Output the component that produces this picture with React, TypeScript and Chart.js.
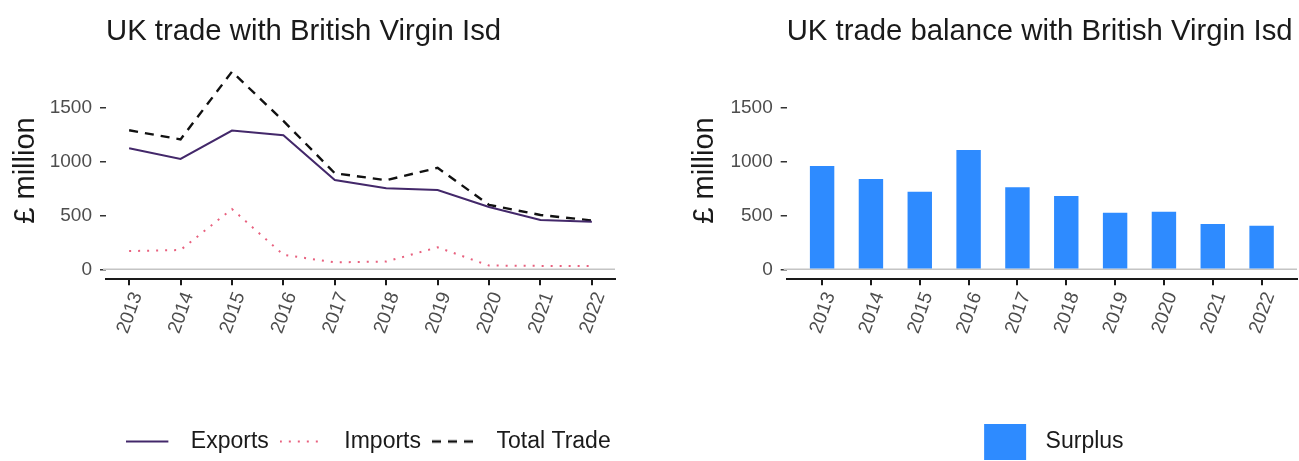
import React, { useEffect, useRef } from 'react';
import { Chart, registerables } from 'chart.js';

Chart.register(...registerables);

// ---- data ----
const years = [2013, 2014, 2015, 2016, 2017, 2018, 2019, 2020, 2021, 2022];
const exportsValues = [1128, 1028, 1292, 1249, 832, 755, 739, 580, 459, 444];
const importsValues = [170, 180, 562, 135, 65, 72, 205, 35, 32, 30];
const totalValues = [1295, 1210, 1840, 1382, 895, 830, 945, 600, 506, 455];
const balanceValues = [963, 841, 723, 1112, 764, 683, 527, 537, 422, 406];
const yTickValues = [0, 500, 1000, 1500];

const leftTitle = 'UK trade with British Virgin Isd';
const rightTitle = 'UK trade balance with British Virgin Isd';
const yTitle = '£ million';

const FONT = "'Liberation Sans', Arial, Helvetica, sans-serif";
const maxVal = Math.max(...totalValues);
const yMin = -0.05 * maxVal;
const yMax = maxVal * 1.05;

const EXPORT_COLOR = '#43286a';
const IMPORT_COLOR = '#e8607e';
const TOTAL_COLOR = '#111111';
const BAR_COLOR = '#2e8bff';

function lineKey(color: string, dash: number[], width: number) {
  const c = document.createElement('canvas');
  c.width = 53;
  c.height = 8;
  const ctx = c.getContext('2d')!;
  ctx.strokeStyle = color;
  ctx.lineWidth = width;
  ctx.setLineDash(dash);
  ctx.beginPath();
  ctx.moveTo(0, 4);
  ctx.lineTo(42, 4);
  ctx.stroke();
  return c;
}

function boxKey(color: string) {
  const c = document.createElement('canvas');
  c.width = 74;
  c.height = 36;
  const ctx = c.getContext('2d')!;
  ctx.fillStyle = color;
  ctx.fillRect(24, 0, 42, 36);
  return c;
}

const zeroLine = {
  id: 'zeroLine',
  beforeDatasetsDraw(chart: any) {
    const { ctx, chartArea, scales } = chart;
    const y = scales.y.getPixelForValue(0);
    ctx.save();
    ctx.strokeStyle = '#c4c4c4';
    ctx.lineWidth = 1.5;
    ctx.beginPath();
    ctx.moveTo(chartArea.left - 3, y);
    ctx.lineTo(chartArea.right, y);
    ctx.stroke();
    ctx.restore();
  },
};

function legendNudge(dx: number) {
  return {
    id: 'legendNudge',
    afterLayout(chart: any) {
      if (chart.legend) {
        chart.legend.left += dx;
        chart.legend.right += dx;
      }
    },
  };
}

function xScale(min: number, max: number) {
  return {
    type: 'linear',
    min,
    max,
    bounds: 'data',
    offset: false,
    afterBuildTicks: (s: any) => {
      s.ticks = years.map((v) => ({ value: v }));
    },
    afterFit: (s: any) => {
      s.height = 139.8;
    },
    ticks: {
      autoSkip: false,
      minRotation: 70,
      maxRotation: 70,
      padding: 4,
      labelOffset: 8,
      color: '#4d4d4d',
      font: { family: FONT, size: 19 },
      callback: (v: any) => String(v),
    },
    grid: { offset: false, drawOnChartArea: false, drawTicks: true, tickLength: 6, color: '#1a1a1a', lineWidth: 2 },
    border: { display: true, color: '#1a1a1a', width: 2 },
  };
}

function yScale(width: number, titlePad: number) {
  return {
    type: 'linear',
    min: yMin,
    max: yMax,
    bounds: 'data',
    afterBuildTicks: (s: any) => {
      s.ticks = yTickValues.map((v) => ({ value: v }));
    },
    afterFit: (s: any) => {
      s.width = width;
    },
    ticks: {
      padding: 8,
      color: '#4d4d4d',
      font: { family: FONT, size: 19 },
      callback: (v: any) => String(v),
    },
    grid: { drawOnChartArea: false, drawTicks: true, tickLength: 6, color: '#333333', lineWidth: 1.5 },
    border: { display: false },
    title: {
      display: true,
      text: yTitle,
      color: '#1a1a1a',
      font: { family: FONT, size: 29 },
      padding: { top: titlePad, bottom: 0 },
    },
  };
}

function titleOpts(text: string) {
  return {
    display: true,
    text,
    align: 'start',
    fullSize: false,
    color: '#1a1a1a',
    font: { family: FONT, size: 29.3, weight: 'normal' },
    padding: { top: 14.2, bottom: 12.5 },
  };
}

export default function App() {
  const leftRef = useRef<HTMLCanvasElement>(null);
  const rightRef = useRef<HTMLCanvasElement>(null);

  useEffect(() => {
    const lineKeys = [
      lineKey(EXPORT_COLOR, [], 2),
      lineKey(IMPORT_COLOR, [2, 7], 2),
      lineKey(TOTAL_COLOR, [9, 7], 2.4),
    ];
    const left = new Chart(leftRef.current!, {
      type: 'line',
      data: {
        datasets: [
          {
            label: 'Exports',
            data: years.map((x, i) => ({ x, y: exportsValues[i] })),
            borderColor: EXPORT_COLOR,
            borderWidth: 2,
            pointRadius: 0,
            tension: 0,
          },
          {
            label: 'Imports',
            data: years.map((x, i) => ({ x, y: importsValues[i] })),
            borderColor: IMPORT_COLOR,
            borderWidth: 2,
            borderDash: [2, 7],
            pointRadius: 0,
            tension: 0,
          },
          {
            label: 'Total Trade',
            data: years.map((x, i) => ({ x, y: totalValues[i] })),
            borderColor: TOTAL_COLOR,
            borderWidth: 2.4,
            borderDash: [9, 7],
            pointRadius: 0,
            tension: 0,
          },
        ],
      },
      options: {
        responsive: false,
        animation: false,
        devicePixelRatio: 1,
        events: [],
        layout: { padding: { left: 0, right: 35, top: 0, bottom: 0 } },
        scales: {
          x: xScale(2012.55, 2022.45) as any,
          y: yScale(106, 8.6) as any,
        },
        plugins: {
          title: titleOpts(leftTitle) as any,
          tooltip: { enabled: false },
          legend: {
            display: true,
            position: 'bottom',
            align: 'center',
            fullSize: false,
            maxHeight: 42,
            labels: {
              usePointStyle: true,
              pointStyleWidth: 53,
              padding: 11,
              color: '#1a1a1a',
              font: { family: FONT, size: 23 },
              generateLabels: (chart: any) =>
                chart.data.datasets.map((ds: any, i: number) => ({
                  text: ds.label,
                  pointStyle: lineKeys[i],
                  fillStyle: 'transparent',
                  strokeStyle: 'transparent',
                  lineWidth: 0,
                  hidden: false,
                  datasetIndex: i,
                  fontColor: '#1a1a1a',
                })),
            },
          } as any,
        },
      },
      plugins: [zeroLine, legendNudge(8)],
    });

    const surplusKey = boxKey(BAR_COLOR);
    const right = new Chart(rightRef.current!, {
      type: 'bar',
      data: {
        datasets: [
          {
            label: 'Surplus',
            data: years.map((x, i) => ({ x, y: balanceValues[i] })),
            backgroundColor: BAR_COLOR,
            barPercentage: 0.5,
            categoryPercentage: 1,
          },
        ],
      },
      options: {
        responsive: false,
        animation: false,
        devicePixelRatio: 1,
        events: [],
        layout: { padding: { left: 0, right: 2, top: 0, bottom: 0 } },
        scales: {
          x: xScale(2012.275, 2022.725) as any,
          y: yScale(136.7, 37.6) as any,
        },
        plugins: {
          title: titleOpts(rightTitle) as any,
          tooltip: { enabled: false },
          legend: {
            display: true,
            position: 'bottom',
            align: 'center',
            fullSize: false,
            maxHeight: 42,
            labels: {
              usePointStyle: true,
              pointStyleWidth: 74,
              padding: 11,
              color: '#1a1a1a',
              font: { family: FONT, size: 23 },
              generateLabels: (chart: any) =>
                chart.data.datasets.map((ds: any, i: number) => ({
                  text: ds.label,
                  pointStyle: surplusKey,
                  fillStyle: 'transparent',
                  strokeStyle: 'transparent',
                  lineWidth: 0,
                  hidden: false,
                  datasetIndex: i,
                  fontColor: '#1a1a1a',
                })),
            },
          } as any,
        },
      },
      plugins: [zeroLine],
    });

    return () => {
      left.destroy();
      right.destroy();
    };
  }, []);

  return (
    <div style={{ position: 'fixed', left: 0, top: 0, width: 1299, height: 461, background: '#ffffff' }}>
      <canvas ref={leftRef} width={650} height={461} style={{ position: 'absolute', left: 0, top: 0, width: 650, height: 461 }} />
      <canvas ref={rightRef} width={649} height={461} style={{ position: 'absolute', left: 650, top: 0, width: 649, height: 461 }} />
    </div>
  );
}
